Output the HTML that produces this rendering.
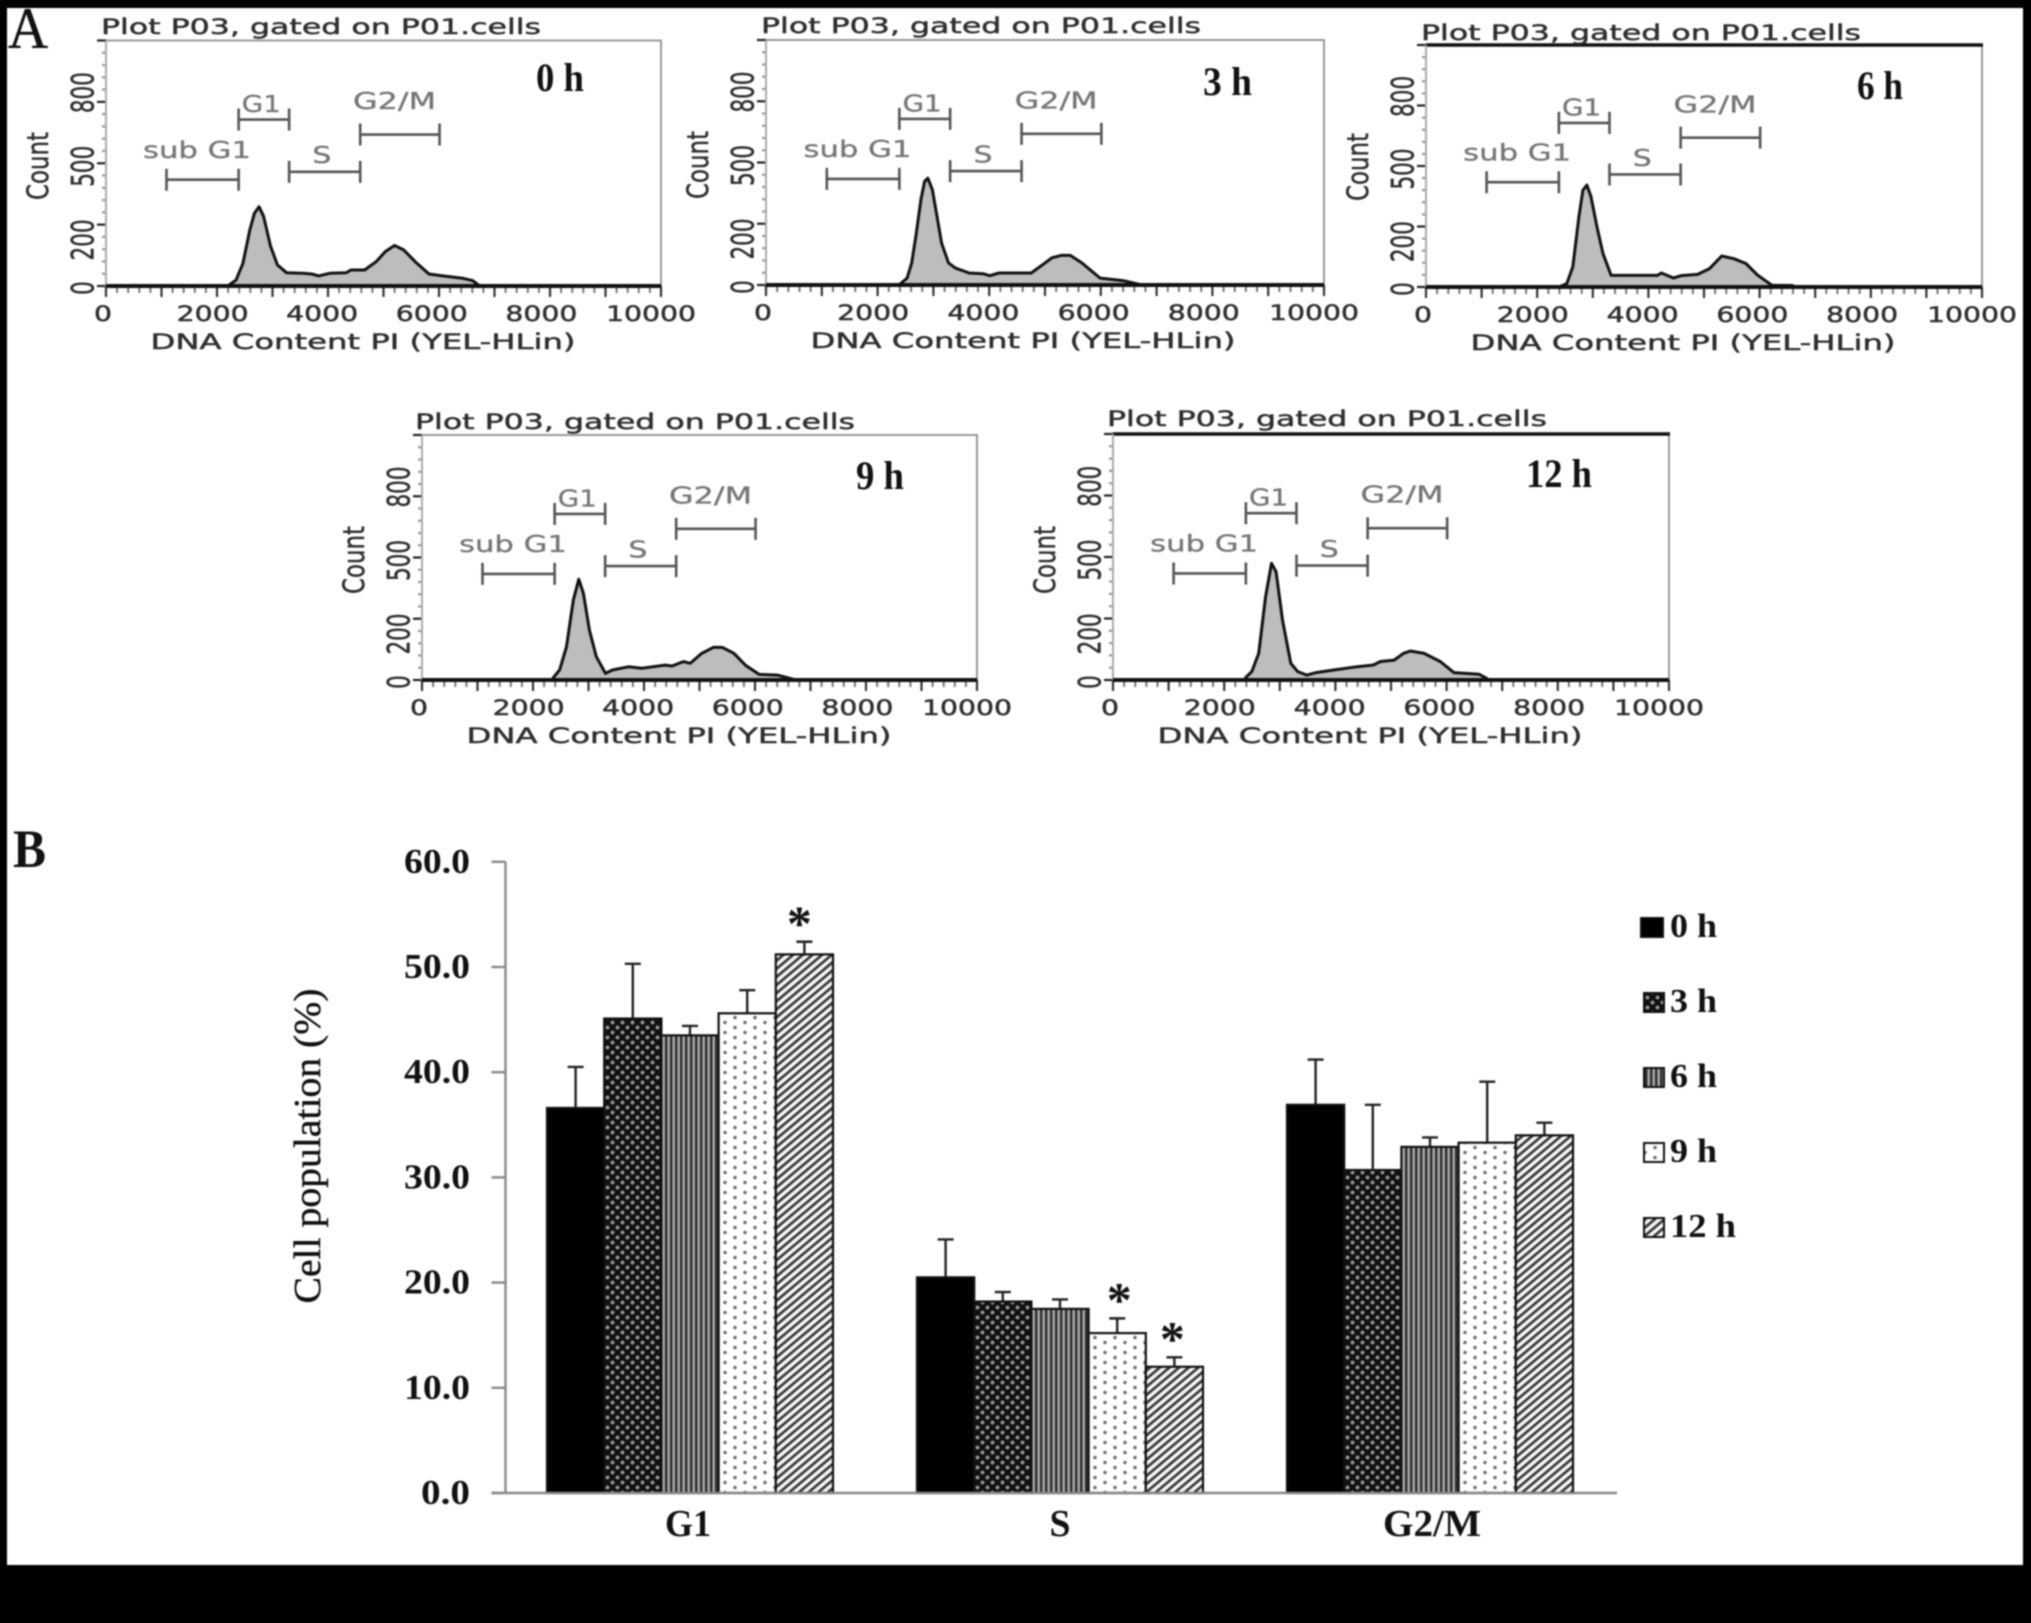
<!DOCTYPE html>
<html lang="en">
<head>
<meta charset="utf-8">
<title>Cell cycle analysis</title>
<style>
html,body{margin:0;padding:0;background:#000;}
#figure{display:block;width:2031px;height:1623px;filter:blur(0.7px);}
.flow{font-family:"DejaVu Sans","Liberation Sans",sans-serif;fill:#2e2e2e;stroke:#2e2e2e;stroke-width:0.45px;}
.gate-text{fill:#757575;stroke:#757575;stroke-width:0.3px;}
.serif{font-family:"Liberation Serif",serif;fill:#111;}
</style>
</head>
<body>
<svg id="figure" xmlns="http://www.w3.org/2000/svg" width="2031" height="1623" viewBox="0 0 2031 1623">
  <defs>
    <pattern id="pat3h" width="10" height="10" patternUnits="userSpaceOnUse">
      <rect width="10" height="10" fill="#111"/>
      <circle cx="2.5" cy="2.5" r="1.9" fill="#9a9a9a"/>
      <circle cx="7.5" cy="7.5" r="1.9" fill="#9a9a9a"/>
    </pattern>
    <pattern id="pat6h" width="5" height="5" patternUnits="userSpaceOnUse">
      <rect width="5" height="5" fill="#a8a8a8"/>
      <rect width="2.4" height="5" fill="#2a2a2a"/>
    </pattern>
    <pattern id="pat9h" width="20" height="10" patternUnits="userSpaceOnUse">
      <rect width="20" height="10" fill="#fff"/>
      <circle cx="5" cy="2.5" r="1.8" fill="#707070"/>
      <circle cx="15" cy="7.5" r="1.8" fill="#707070"/>
    </pattern>
    <pattern id="pat12h" width="6.2" height="6.2" patternUnits="userSpaceOnUse" patternTransform="rotate(50)">
      <rect width="6.2" height="6.2" fill="#f4f4f4"/>
      <rect width="2.6" height="6.2" fill="#333"/>
    </pattern>
  </defs>
  <rect x="7" y="8" width="2016" height="1557" fill="#fff"/>
  <text class="serif" x="8" y="48" font-size="58" textLength="40" lengthAdjust="spacingAndGlyphs" stroke="#111" stroke-width="0.5">A</text>
  <text class="serif" x="13" y="867" font-size="54" font-weight="bold" textLength="33" lengthAdjust="spacingAndGlyphs">B</text>
  <g id="flow-panels"></g>
  <g id="bar-chart"></g>
</svg>
<script>
// ---------- Panel A: DNA content histograms ----------
const dna0h = [2218,2343,2467,2591,2674,2757,2839,2964,3088,3253,3543,3709,3833,4040,4329,4412,4660,4867,5033,5199,5364,5571,5820,6068,6440,6606,6730];
const count0h = [4,24,92,228,296,323,284,163,86,54,52,49,41,52,54,65,65,99,140,165,147,99,49,41,31,22,1];
const dna3h = [2405,2529,2611,2693,2776,2842,2899,2982,3064,3147,3270,3394,3641,3888,4011,4176,4753,4959,5123,5288,5453,5659,5988,6400,6688];
const count3h = [4,28,90,211,348,423,436,389,280,171,90,69,49,46,38,49,49,83,111,121,121,90,28,18,3];
const dna6h = [2424,2533,2641,2750,2822,2894,2967,3075,3184,3329,4161,4233,4450,4595,4884,5101,5318,5536,5753,5970,6223,6585,6657];
const count6h = [3,14,83,290,400,421,373,248,138,48,48,58,37,47,52,76,128,117,97,48,7,6,0];
const dna9h = [2355,2479,2603,2727,2826,2909,3016,3140,3306,3430,3719,3967,4380,4504,4710,4834,5041,5248,5413,5620,5826,6074,6405,6694];
const count9h = [7,41,136,326,411,354,204,95,27,41,54,48,61,57,75,68,109,133,133,109,61,23,20,3];
const dna12h = [2372,2496,2620,2744,2851,2934,3049,3198,3322,3487,3653,3983,4396,4686,4810,5058,5223,5347,5595,5884,6132,6586,6735];
const count12h = [7,34,108,339,474,440,244,68,34,20,30,41,54,61,75,81,108,118,108,75,30,23,5];
const dnaTicks = [0,2000,4000,6000,8000,10000];
const countTicks = [0,200,500,800];
const gateNames = ["sub G1","G1","S","G2/M"];
const gateStarts = [1090,2390,3300,4580];
const gateEnds = [2390,3300,4580,6010];
const gateLevels = [433,678,465,617];
const gateLabelLevels = [522,709,501,721];
const gateLabelCenters = [1639,2798,3890,5199];

// ---------- Panel B: bar chart ----------
const phases = ["G1","S","G2/M"];
const timepoints = ["0 h","3 h","6 h","9 h","12 h"];
const meanG1 = [36.6,45.1,43.5,45.6,51.2];
const meanS = [20.5,18.2,17.5,15.2,12.0];
const meanG2M = [36.9,30.7,32.9,33.3,34.0];
const upperG1 = [40.5,50.3,44.4,47.8,52.4];
const upperS = [24.1,19.1,18.4,16.6,12.9];
const upperG2M = [41.2,36.9,33.8,39.1,35.2];
const significantG1 = [false,false,false,false,true];
const significantS = [false,false,false,true,true];
const significantG2M = [false,false,false,false,false];
const percentTicks = [0,10,20,30,40,50,60];

const NS = "http://www.w3.org/2000/svg";
function add(parent, tag, attrs, text) {
  const el = document.createElementNS(NS, tag);
  for (const k in attrs) el.setAttribute(k, attrs[k]);
  if (text !== undefined) el.textContent = text;
  parent.appendChild(el);
  return el;
}

function drawFlowPanel(root, o) {
  const dnaX = v => o.left + v / 10000 * (o.right - o.left);
  const countY = v => o.bottom - v / 1000 * (o.bottom - o.top);
  const g = add(root, "g", {});
  
  

  const rightEdge = add(g, "line", {x1:o.right, x2:o.right, y1:o.top, y2:o.bottom, stroke:"#999", "stroke-width":2});
  
  
  const frame = add(g, "line", {x1:o.left, x2:o.right + 1, y1:o.top, y2:o.top, stroke:o.topColor, "stroke-width":o.topWidth});
  
  

  const title = add(g, "text", {class:"flow", x:o.titleX, y:o.titleY, "font-size":21, textLength:440, lengthAdjust:"spacingAndGlyphs"}, "Plot P03, gated on P01.cells");
  
  

  // minor / major ticks along the axes
  for (let v = 0; v <= 10000; v += 200) {
    const major = v % 1000 === 0;
    const t = add(g, "line", {x1:dnaX(v), x2:dnaX(v), y1:o.bottom, y2:o.bottom + (major ? 11 : 7), stroke: major ? "#333" : "#777", "stroke-width": major ? 2.2 : 2});
    
    
  }
  for (let v = 0; v <= 1000; v += 50) {
    const major = v % 250 === 0;
    const t = add(g, "line", {x1:o.left, x2:o.left - (major ? 9 : 4), y1:countY(v), y2:countY(v), stroke: major ? "#222" : "#999", "stroke-width":2.2});
    
    
  }
  const leftAxis = add(g, "line", {x1:o.left, x2:o.left, y1:o.top, y2:o.bottom, stroke:"#aaa", "stroke-width":2});
  
  

  // histogram
  const pts = o.dna.map((d, i) => dnaX(d).toFixed(1) + " " + countY(o.counts[i]).toFixed(1));
  const area = add(g, "path", {d:`M${dnaX(o.dna[0]).toFixed(1)} ${o.bottom}L${pts.join("L")}L${dnaX(o.dna[o.dna.length-1]).toFixed(1)} ${o.bottom}Z`, fill:"#bdbdbd", stroke:"none"});
  
  
  const outline = add(g, "path", {d:"M" + pts.join("L"), fill:"none", stroke:"#111", "stroke-width":3, "stroke-linejoin":"round"});
  
  
  const baseLine = add(g, "line", {x1:o.left, x2:o.right, y1:o.bottom, y2:o.bottom, stroke:"#111", "stroke-width":4});
  
  

  // gates
  gateNames.forEach((name, i) => {
    const y = countY(gateLevels[i]);
    const x1 = dnaX(gateStarts[i]), x2 = dnaX(gateEnds[i]);
    const gate = add(g, "path", {d:`M${x1} ${y-11}V${y+11}M${x1} ${y}H${x2}M${x2} ${y-11}V${y+11}`, fill:"none", stroke:"#555", "stroke-width":2.6});
    
    
    const label = add(g, "text", {class:"flow gate-text", x:dnaX(gateLabelCenters[i]), y:countY(gateLabelLevels[i]), "text-anchor":"middle", "font-size":23, textLength:[108,39,19,83][i], lengthAdjust:"spacingAndGlyphs"}, name);
    
    
  });

  // tick labels
  dnaTicks.forEach(v => {
    const s = String(v);
    const lab = add(g, "text", {class:"flow", x:dnaX(v) - 3 - v * 0.0007, y:o.bottom + 35, "text-anchor":"middle", "font-size":21, textLength:s.length === 1 ? 18 : s.length * 18, lengthAdjust:"spacingAndGlyphs"}, s);
    
    
  });
  countTicks.forEach(v => {
    const s = String(v);
    const bx = o.left - 12.5, by = countY(v) + (v === 0 ? 2 : 3);
    const lab = add(g, "text", {class:"flow", x:bx, y:by, transform:`rotate(-90 ${bx} ${by})`, "text-anchor":"middle", "font-size":31, textLength:s.length * 13.7, lengthAdjust:"spacingAndGlyphs"}, s);
    
    
  });

  const xt = add(g, "text", {class:"flow", x:o.left + 257, y:o.bottom + 63, "text-anchor":"middle", "font-size":21, textLength:425, lengthAdjust:"spacingAndGlyphs"}, "DNA Content PI (YEL-HLin)");
  
  
  const ybx = o.left - 58, yby = o.bottom - 120;
  const yt = add(g, "text", {class:"flow", x:ybx, y:yby, transform:`rotate(-90 ${ybx} ${yby})`, "text-anchor":"middle", "font-size":29, textLength:68, lengthAdjust:"spacingAndGlyphs"}, "Count");
  
  

  const tag = add(g, "text", {class:"serif", x:o.tagX, y:o.tagY, "font-size":40, "font-weight":"bold", textLength:o.tagLen, lengthAdjust:"spacingAndGlyphs"}, o.label);
  
  
}

const panelRoot = document.getElementById("flow-panels");
drawFlowPanel(panelRoot, {slug:"0h", label:"0 h", dna:dna0h, counts:count0h, left:106, right:661, top:40.5, bottom:286, titleX:101, titleY:34, tagX:536, tagY:91, tagLen:48, topColor:"#999", topWidth:2});
drawFlowPanel(panelRoot, {slug:"3h", label:"3 h", dna:dna3h, counts:count3h, left:766, right:1324, top:40, bottom:285, titleX:761, titleY:33, tagX:1203, tagY:95, tagLen:49, topColor:"#999", topWidth:2});
drawFlowPanel(panelRoot, {slug:"6h", label:"6 h", dna:dna6h, counts:count6h, left:1426, right:1982, top:45, bottom:287, titleX:1421, titleY:40, tagX:1857, tagY:99, tagLen:46, topColor:"#111", topWidth:3.4});
drawFlowPanel(panelRoot, {slug:"9h", label:"9 h", dna:dna9h, counts:count9h, left:422, right:977, top:435, bottom:680, titleX:415, titleY:429, tagX:856, tagY:489, tagLen:48, topColor:"#999", topWidth:2});
drawFlowPanel(panelRoot, {slug:"12h", label:"12 h", dna:dna12h, counts:count12h, left:1113, right:1669, top:434, bottom:680, titleX:1107, titleY:426, tagX:1526, tagY:487, tagLen:66, topColor:"#111", topWidth:3.4});

// ---------- bar chart drawing ----------
(function drawBars() {
  const root = document.getElementById("bar-chart");
  const axisLeft = 505.5, axisRight = 1617, axisBottom = 1493, unit = 10.52, barW = 57.2;
  const fills = ["#000","url(#pat3h)","url(#pat6h)","url(#pat9h)","url(#pat12h)"];
  const means = [meanG1, meanS, meanG2M];
  const uppers = [upperG1, upperS, upperG2M];
  const stars = [significantG1, significantS, significantG2M];
  const y = v => axisBottom - v * unit;
  const groupCenter = g => 507 + (g + 0.5) * 370 - 2;
  const barX = (g, s) => groupCenter(g) + (s - 2.5) * barW;

  const yAxis = add(root, "line", {x1:axisLeft, x2:axisLeft, y1:y(60), y2:axisBottom, stroke:"#888", "stroke-width":2.4});
  
  

  percentTicks.forEach(v => {
    const t = add(root, "line", {x1:axisLeft - 14, x2:axisLeft, y1:y(v), y2:y(v), stroke:"#888", "stroke-width":2.4});
    
    
    const s = v.toFixed(1);
    const lab = add(root, "text", {class:"serif", x:470, y:y(v) + 11, "text-anchor":"end", "font-size":35, "font-weight":"bold", textLength:s.length === 3 ? 49 : 66, lengthAdjust:"spacingAndGlyphs"}, s);
    
    
  });

  const yTitle = add(root, "text", {class:"serif", x:320, y:1146, transform:"rotate(-90 320 1146)", "text-anchor":"middle", "font-size":38, textLength:315, lengthAdjust:"spacingAndGlyphs", stroke:"#111", "stroke-width":0.4}, "Cell population (%)");
  
  

  phases.forEach((phase, g) => {
    timepoints.forEach((tp, s) => {
      const x = barX(g, s);
      const cx = x + barW / 2;
      const err = add(root, "path", {d:`M${cx} ${y(means[g][s])}V${y(uppers[g][s])}M${cx - 8} ${y(uppers[g][s])}H${cx + 8}`, fill:"none", stroke:"#222", "stroke-width":2.4});
      
      
      const bar = add(root, "rect", {x:x, y:y(means[g][s]), width:barW, height:axisBottom - y(means[g][s]), fill:fills[s], stroke:"#111", "stroke-width":2.2});
      
      
      if (stars[g][s]) {
        const star = add(root, "text", {class:"serif", x:cx + (g === 0 ? -5 : (s === 3 ? 2 : -2)), y:y(uppers[g][s]) - 2, "text-anchor":"middle", "font-size":50, "font-weight":"bold"}, "*");
        
        
      }
    });
    const lab = add(root, "text", {class:"serif", x:groupCenter(g) + (g - 1) * 2, y:1536, "text-anchor":"middle", "font-size":38, "font-weight":"bold", textLength:[46,21,98][g], lengthAdjust:"spacingAndGlyphs"}, phase);
    
    
  });

  const xAxis = add(root, "line", {x1:axisLeft - 14, x2:axisRight, y1:axisBottom, y2:axisBottom, stroke:"#888", "stroke-width":2.4});
  
  

  timepoints.forEach((tp, s) => {
    const base = 936 + s * 75;
    const item = add(root, "g", {});
    
    
    const swatch = add(item, "rect", {x:s === 0 ? 1641 : 1644, y:base - 18, width:s === 0 ? 22 : 20, height:19, fill:fills[s], stroke:"#111", "stroke-width":2});
    
    
    const lab = add(item, "text", {class:"serif", x:1670, y:base + 1, "font-size":34, "font-weight":"bold", textLength:s === 4 ? 66 : 47, lengthAdjust:"spacingAndGlyphs"}, tp);
    
    
  });
})();
</script>
</body>
</html>
